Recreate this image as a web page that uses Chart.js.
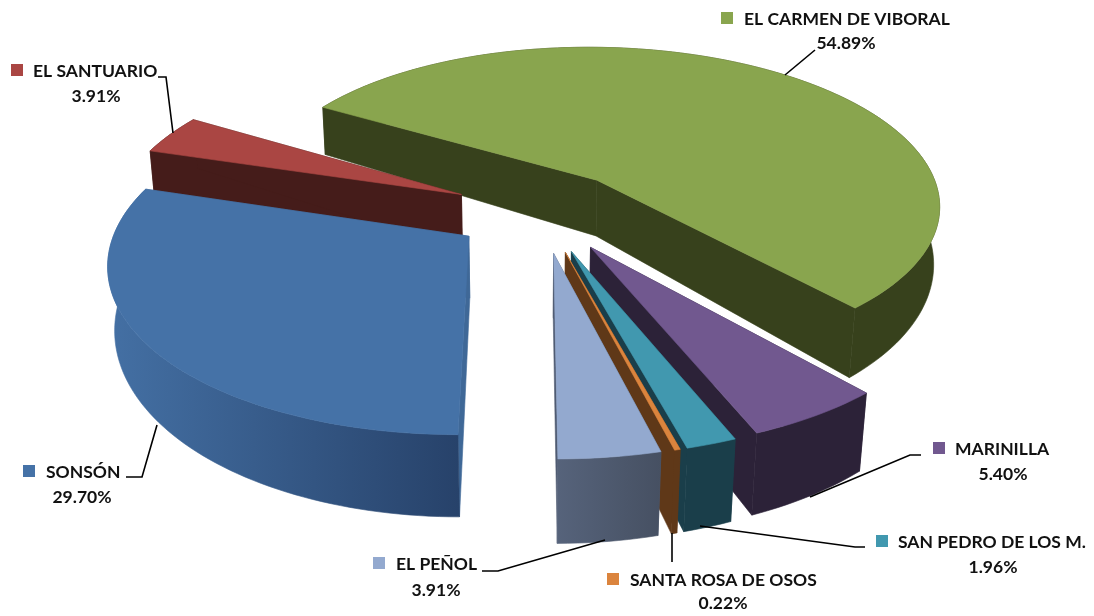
<!DOCTYPE html>
<html>
<head>
<meta charset="utf-8">
<script src="https://cdn.jsdelivr.net/npm/chart.js@4"></script>
<style>
  html, body { margin: 0; padding: 0; background: #fff; }
  #wrap { width: 1094px; height: 616px; }
</style>
</head>
<body>
<div id="wrap"><canvas id="myChart" width="1094" height="616"></canvas></div>
<script>
var categories = ["SONSÓN", "EL SANTUARIO", "EL CARMEN DE VIBORAL", "MARINILLA", "SAN PEDRO DE LOS M.", "SANTA ROSA DE OSOS", "EL PEÑOL"];
var percentages = [29.7, 3.91, 54.89, 5.4, 1.96, 0.22, 3.91];
var percentLabels = ["29.70%", "3.91%", "54.89%", "5.40%", "1.96%", "0.22%", "3.91%"];
var topColors = ["#4572a7", "#aa4643", "#89a54e", "#71588f", "#4198af", "#db843d", "#93a9cf"];
var wallColors = ["#3f6897", "#451c1a", "#37411c", "#2c2238", "#1a3e4a", "#5f3818", "#4f5b72"];
var wallLeft = ["#4470a4", "#451c1a", "#37411c", "#2c2238", "#1a3e4a", "#5f3818", "#56637b"];
var wallRight = ["#27426a", "#451c1a", "#37411c", "#2c2238", "#1a3e4a", "#5f3818", "#465062"];

// painter's order, back to front
var drawOrder = [2, 1, 0, 3, 4, 5, 6];

// camera, in units of the pie radius
var cam = { tilt: 27.6, dist: 6, focal: 2085, cx: 530, cy: 211, shiftU: 0.034, depth: 0.195, depthGrow: 0.2 };

// label layout: swatch, name start, percent centre, leader line
var labelBoxes = [
  { sx: 23, sy: 471, tx: 46, px: 82, py: 497, line: [[126, 477], [142, 477], [157, 425]] },
  { sx: 11, sy: 70, tx: 33, px: 96, py: 96, line: [[158, 77], [166, 77], [173, 133]] },
  { sx: 721, sy: 18, tx: 744, px: 846, py: 43, line: [[815, 50], [785, 75]] },
  { sx: 933, sy: 448, tx: 955, px: 1003, py: 474, line: [[921, 455], [910, 455], [810, 497]] },
  { sx: 876, sy: 541, tx: 898, px: 993, py: 567, line: [[865, 547], [855, 547], [700, 526]] },
  { sx: 607, sy: 579, tx: 630, px: 723, py: 603, line: [[672, 562], [672, 533]] },
  { sx: 373, sy: 563, tx: 396, px: 436, py: 590, line: [[482, 571], [498, 571], [605, 540]] }
];

function project(u, v, z) {
  var t = cam.tilt * Math.PI / 180;
  var yc = v * Math.sin(t) - z * Math.cos(t);
  var d = cam.dist - v * Math.cos(t) - z * Math.sin(t);
  return { x: cam.cx + cam.focal * (u + cam.shiftU) / d, y: cam.cy + cam.focal * yc / d };
}

// bottom rim: walls read taller towards the viewer in the original
function projectBottom(u, v) {
  return project(u, v, -cam.depth * (1 + cam.depthGrow * v));
}

function fillPoly(ctx, pts, fill) {
  ctx.beginPath();
  pts.forEach(function (p, i) {
    if (i === 0) ctx.moveTo(p.x, p.y);
    else ctx.lineTo(p.x, p.y);
  });
  ctx.closePath();
  ctx.fillStyle = fill;
  ctx.fill();
  // hides hairline seams between faces
  ctx.strokeStyle = fill;
  ctx.lineWidth = 0.6;
  ctx.stroke();
}

function drawSlice(ctx, arc, i) {
  var R = arc.outerRadius;
  var mid = (arc.startAngle + arc.endAngle) / 2;
  var off = arc.options.offset / R;
  var bu = Math.cos(mid) * off;
  var bv = Math.sin(mid) * off;
  var top = [], bottom = [];
  var steps = Math.max(4, Math.ceil((arc.endAngle - arc.startAngle) * 40));
  for (var s = 0; s <= steps; s++) {
    var a = arc.startAngle + (arc.endAngle - arc.startAngle) * s / steps;
    top.push(project(bu + Math.cos(a), bv + Math.sin(a), 0));
    bottom.push(projectBottom(bu + Math.cos(a), bv + Math.sin(a)));
  }
  var apexTop = project(bu, bv, 0);
  var apexBottom = projectBottom(bu, bv);

  // cut faces first, then the rounded wall, then the top
  fillPoly(ctx, [apexTop, top[0], bottom[0], apexBottom], wallColors[i]);
  fillPoly(ctx, [apexTop, top[steps], bottom[steps], apexBottom], wallColors[i]);

  var xs = top.concat(bottom).map(function (p) { return p.x; });
  var grad = ctx.createLinearGradient(Math.min.apply(null, xs), 0, Math.max.apply(null, xs), 0);
  grad.addColorStop(0, wallLeft[i]);
  grad.addColorStop(1, wallRight[i]);
  fillPoly(ctx, top.concat(bottom.slice().reverse()), grad);

  fillPoly(ctx, [apexTop].concat(top), topColors[i]);
}

function drawLabels(ctx) {
  labelBoxes.forEach(function (b, i) {
    ctx.strokeStyle = "#000";
    ctx.lineWidth = 1.6;
    ctx.beginPath();
    b.line.forEach(function (p, k) {
      if (k === 0) ctx.moveTo(p[0], p[1]);
      else ctx.lineTo(p[0], p[1]);
    });
    ctx.stroke();

    ctx.fillStyle = topColors[i];
    ctx.fillRect(b.sx, b.sy - 6, 12, 12);

    ctx.fillStyle = "#111";
    ctx.font = "bold 17.5px Lato";
    ctx.textBaseline = "middle";
    ctx.textAlign = "left";
    ctx.fillText(categories[i], b.tx, b.sy + 1);
    ctx.textAlign = "center";
    ctx.fillText(percentLabels[i], b.px, b.py);
  });
}

var pie3d = {
  id: "pie3d",
  beforeDatasetDraw: function (chart) {
    var arcs = chart.getDatasetMeta(0).data;
    drawOrder.forEach(function (i) {
      drawSlice(chart.ctx, arcs[i], i);
    });
    drawLabels(chart.ctx);
    return false;
  }
};

new Chart("myChart", {
  type: "pie",
  data: {
    labels: categories,
    datasets: [
      {
        data: percentages,
        backgroundColor: topColors,
        borderWidth: 0,
        offset: 70,
      },
    ],
  },
  options: {
    responsive: false,
    animation: false,
    rotation: 180,
    layout: { padding: 0 },
    plugins: { legend: { display: false }, tooltip: { enabled: false } },
  },
  plugins: [pie3d],
});
</script>
</body>
</html>
